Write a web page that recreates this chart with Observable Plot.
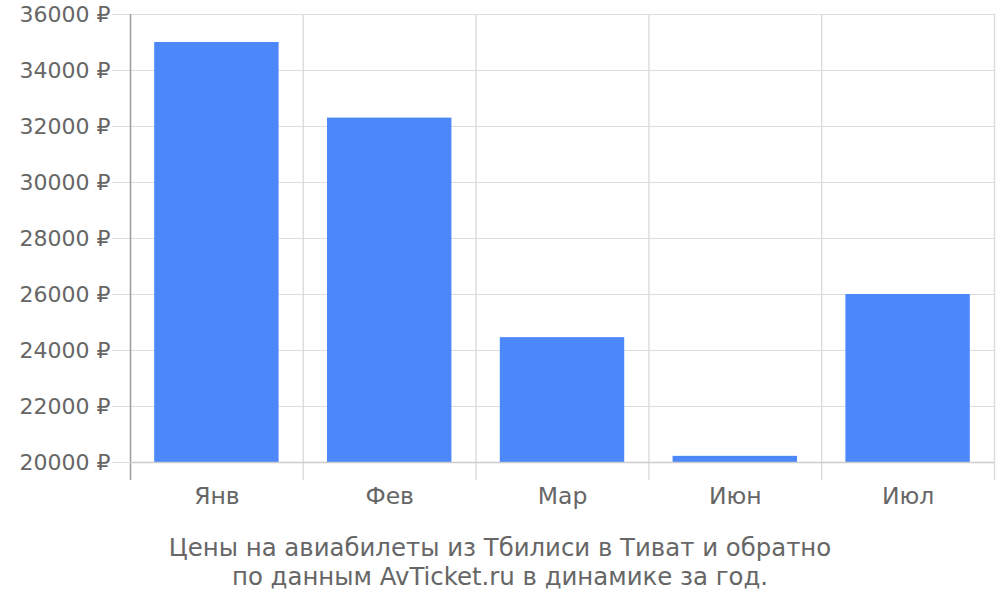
<!DOCTYPE html>
<html>
<head>
<meta charset="utf-8">
<script src="https://cdn.jsdelivr.net/npm/d3@7"></script>
<script src="https://cdn.jsdelivr.net/npm/@observablehq/plot@0.6"></script>
<style>
  body { margin: 0; background: #fff; }
  #chart svg { display: block; }
  #caption { width: 1000px; text-align: center; font-family: "DejaVu Sans", sans-serif; font-size: 24.4px; line-height: 29px; color: #666; margin-top: 15px; }
</style>
</head>
<body>
<div id="chart"></div>
<div id="caption">Цены на авиабилеты из Тбилиси в Тиват и обратно<br>по данным AvTicket.ru в динамике за год.</div>
<script>
const months = ["Янв", "Фев", "Мар", "Июн", "Июл"];
const prices = [35000, 32300, 24460, 20220, 26000];
const yTicks = [20000, 22000, 24000, 26000, 28000, 30000, 32000, 34000, 36000];

const data = months.map((m, i) => ({month: m, price: prices[i]}));

const W = 1000, ML = 130, MR = 6;
const step = (W - ML - MR) / months.length;

const chart = Plot.plot({
  width: W,
  height: 518,
  marginTop: 14,
  marginBottom: 38,
  marginLeft: ML,
  marginRight: MR,
  style: {fontFamily: "DejaVu Sans, sans-serif", fontSize: "22px", color: "#666", background: "#fff", overflow: "visible"},
  x: {domain: months, paddingInner: 0.28, paddingOuter: 0.14, round: false, label: null},
  y: {domain: [20000, 36000], range: [462, 14], label: null},
  marks: [
    Plot.gridY(yTicks, {stroke: "#dddddd", strokeOpacity: 1}),
    Plot.ruleX(months, {x: d => d, dx: -step / 2, stroke: (d, i) => i === 0 ? "#9a9a9a" : "#dddddd", strokeWidth: 1.5}),
    Plot.ruleX([months[months.length - 1]], {x: d => d, dx: step / 2, stroke: "#dddddd", strokeWidth: 1.5}),
    Plot.barY(data, {x: "month", y1: 20000, y2: "price", fill: "#4d88fa"}),
    Plot.ruleY([20000], {stroke: "#cccccc", strokeWidth: 1.5}),
    Plot.axisY({ticks: yTicks, tickSize: 18, tickPadding: 2, stroke: "#dddddd", fill: "#666", tickFormat: d => d + " ₽", label: null}),
    Plot.axisX({tickSize: 0, tickPadding: 7, fill: "#666", fontSize: 23.5, label: null})
  ]
});
document.getElementById("chart").appendChild(chart);
</script>
</body>
</html>
